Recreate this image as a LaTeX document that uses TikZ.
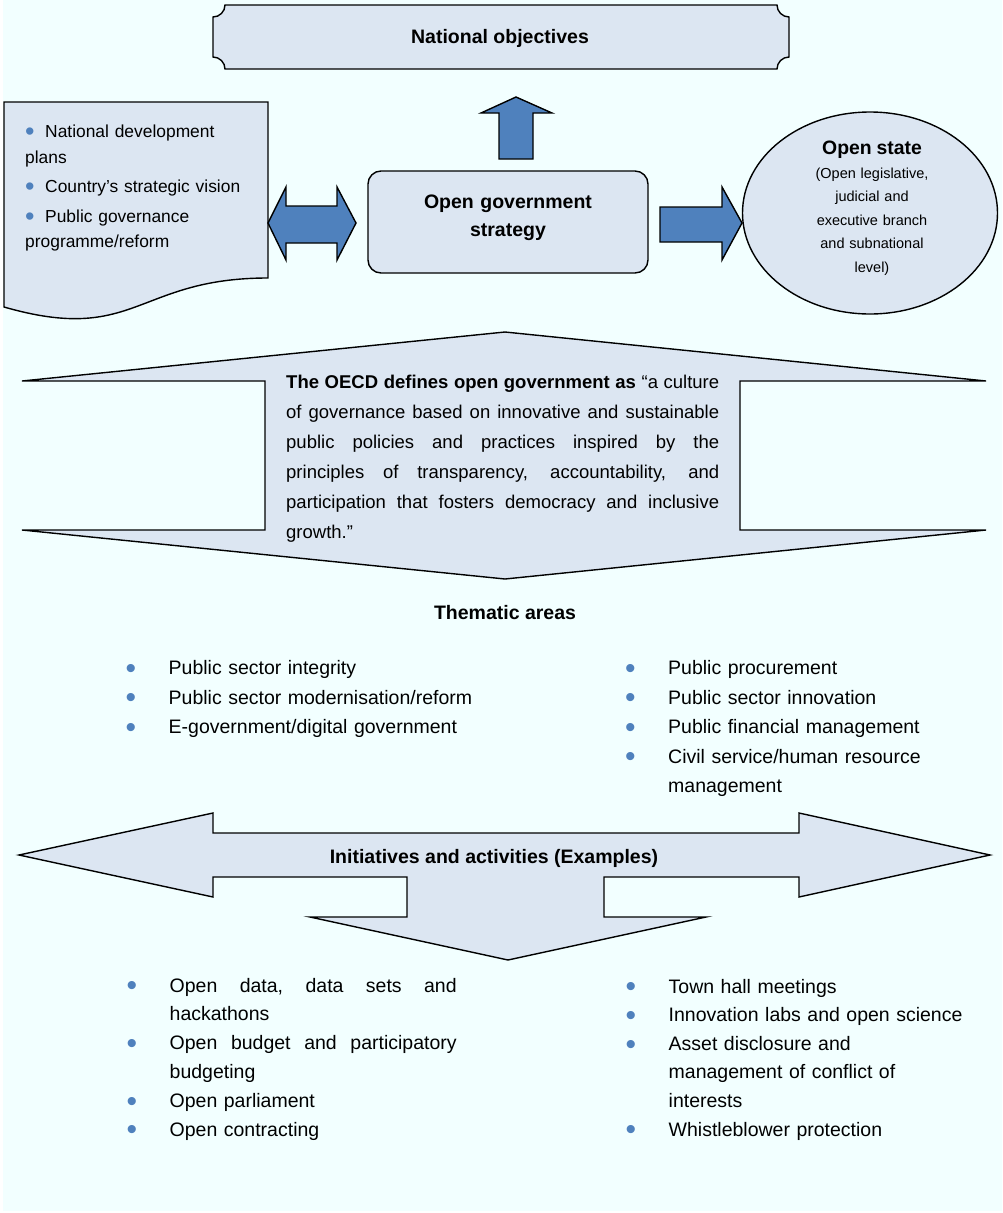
\documentclass[tikz,border=0pt]{standalone}
\usepackage{fontspec}
\setmainfont{Liberation Sans}
\usepackage{xcolor}
\usepackage{tikz}
\definecolor{bgcyan}{RGB}{242,255,255}
\definecolor{shapefill}{RGB}{220,230,242}
\definecolor{arrowblue}{RGB}{79,129,189}
\newcommand{\bul}{\makebox[43pt][l]{\raisebox{-3.8pt}{\color{arrowblue}\fontsize{30}{30}\selectfont•}}}
\newcommand{\docbul}{\makebox[20pt][l]{\raisebox{-3.2pt}{\color{arrowblue}\fontsize{27}{27}\selectfont•}}}
\newcommand{\cont}{\hspace*{43pt}}

\begin{document}
\begin{tikzpicture}[x=1pt,y=-1pt,
  shapebox/.style={draw=black,line width=1.4pt,fill=shapefill},
  blockarrow/.style={draw=black,line width=1.4pt,fill=arrowblue},
  title/.style={inner sep=0pt,anchor=base,font=\fontsize{19.5}{28}\selectfont\bfseries},
  listtxt/.style={inner sep=0pt,anchor=base west,text width=360pt,align=left}]
\useasboundingbox (0,0) rectangle (1002,1213);
\fill[bgcyan] (3,0) rectangle (1002,1211);

% national objectives
\draw[shapebox] (225,5) -- (777,5) .. controls (777,11.6) and (782.4,17) .. (789,17) -- (789,57)
  .. controls (782.4,57) and (777,62.4) .. (777,69) -- (225,69) .. controls (225,62.4) and (219.6,57) .. (213,57)
  -- (213,17) .. controls (219.6,17) and (225,11.6) .. (225,5) -- cycle;
\node[title] (natobj) at (500,43.5) {National objectives};
\draw[blockarrow] (499,159) -- (499,113) -- (481,113) -- (516,97) -- (552,113) -- (533,113) -- (533,159) -- cycle;

% plans document
\draw[shapebox] (4,102) -- (268,102) -- (268,278) .. controls (136,278) and (136,345) .. (4,307) -- cycle;
\node[inner sep=0pt,anchor=base west,text width=240pt,align=left,font=\fontsize{17.4}{25.5}\selectfont] (plans) at (25,137.5)
  {\docbul National development\\plans\\[4pt]\docbul Country’s strategic vision\\[4pt]\docbul Public governance\\programme/reform};
\draw[blockarrow] (268,223) -- (286,187) -- (286,206) -- (337,206) -- (337,187) -- (356,223) -- (337,260) -- (337,243)
  -- (286,243) -- (286,260) -- cycle;

% strategy
\draw[shapebox,rounded corners=13pt] (368,171) rectangle (648,273);
\node[title,text width=260pt,align=center] (ogs) at (508,208.5) {Open government\\strategy};
\draw[blockarrow] (660,207) -- (722,207) -- (722,187) -- (742,223) -- (722,260) -- (722,242) -- (660,242) -- cycle;

% open state
\draw[shapebox] (870,213) ellipse [x radius=127.5,y radius=101];
\node[inner sep=0pt,anchor=base,text width=200pt,align=center,font=\fontsize{14.5}{23.5}\selectfont] (openstate) at (872,154.5)
  {{\fontsize{19.4}{23.5}\selectfont\bfseries Open state}\\(Open legislative,\\judicial and\\executive branch\\and subnational\\level)};

% definition
\draw[shapebox] (505,332) -- (986,381) -- (740,381) -- (740,530) -- (986,530) -- (505,579) -- (22,530) -- (265,530)
  -- (265,381) -- (22,381) -- cycle;
\node[inner sep=0pt,anchor=base west,text width=433pt,align=justify,font=\fontsize{18.5}{30}\selectfont] (oecd) at (286,388)
  {\textbf{The OECD defines open government as} “a culture\linebreak
   of governance based on innovative and sustainable\linebreak
   public policies and practices inspired by the\linebreak
   principles of transparency, accountability, and\linebreak
   participation that fosters democracy and inclusive\linebreak
   growth.”};

% thematic areas
\node[title] (thematic) at (505,619.5) {Thematic areas};
\node[listtxt,font=\fontsize{19.5}{29.5}\selectfont] (themeL) at (125.5,674.5)
  {\bul Public sector integrity\\\bul Public sector modernisation/reform\\\bul E-government/digital government};
\node[listtxt,font=\fontsize{19.5}{29.5}\selectfont] (themeR) at (625,674.5)
  {\bul Public procurement\\\bul Public sector innovation\\\bul Public financial management\\
   \bul Civil service/human resource\\\cont management};

% initiatives
\draw[shapebox] (19,855) -- (213,813) -- (213,833) -- (799,833) -- (799,813) -- (990,855) -- (799,897) -- (799,877)
  -- (604,877) -- (604,917) -- (706,917) -- (508,960) -- (310,917) -- (407,917) -- (407,877) -- (213,877) -- (213,897) -- cycle;
\node[title] (initiatives) at (494,863.5) {Initiatives and activities (Examples)};
\node[listtxt,font=\fontsize{19.5}{28.8}\selectfont] (initL) at (126.5,992)
  {\bul\makebox[287pt][l]{Open\hfill data,\hfill data\hfill sets\hfill and}\\\cont hackathons\\
   \bul\makebox[287pt][l]{Open\hfill budget\hfill and\hfill participatory}\\\cont budgeting\\
   \bul Open parliament\\\bul Open contracting};
\node[listtxt,font=\fontsize{19.5}{28.6}\selectfont] (initR) at (625.5,993)
  {\bul Town hall meetings\\\bul Innovation labs and open science\\\bul Asset disclosure and\\
   \cont management of conflict of\\\cont interests\\\bul Whistleblower protection};
\end{tikzpicture}
\end{document}
